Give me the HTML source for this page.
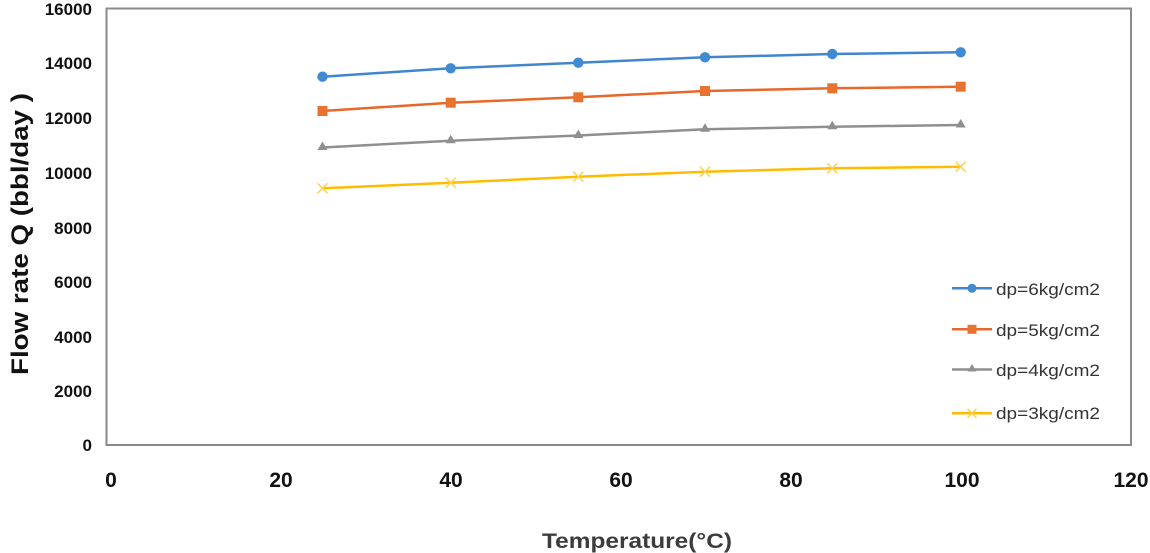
<!DOCTYPE html>
<html><head><meta charset="utf-8"><style>
html,body{margin:0;padding:0;background:#fff;}
svg{display:block;}
</style></head><body>
<svg width="1150" height="553" viewBox="0 0 1150 553" xmlns="http://www.w3.org/2000/svg">
<rect width="1150" height="553" fill="#fff"/>
<rect x="106.5" y="8.5" width="1024.5" height="436.5" fill="none" stroke="#8a8a8a" stroke-width="2"/>
<g font-family="Liberation Sans, sans-serif" font-weight="bold" font-size="17" fill="#111" text-anchor="end">
<text x="92" y="15">16000</text>
<text x="92" y="69">14000</text>
<text x="92" y="124">12000</text>
<text x="92" y="179">10000</text>
<text x="92" y="234">8000</text>
<text x="92" y="288">6000</text>
<text x="92" y="343">4000</text>
<text x="92" y="397">2000</text>
<text x="92" y="451">0</text>
</g>
<g font-family="Liberation Sans, sans-serif" font-weight="bold" font-size="21" fill="#111" text-anchor="middle">
<text x="111" y="487">0</text>
<text x="281" y="487">20</text>
<text x="451" y="487">40</text>
<text x="621" y="487">60</text>
<text x="791" y="487">80</text>
<text x="962" y="487">100</text>
<text x="1131" y="487">120</text>
</g>
<text x="637" y="548" font-family="Liberation Sans, sans-serif" font-weight="bold" font-size="21" fill="#3c3c3c" text-anchor="middle" textLength="190" lengthAdjust="spacingAndGlyphs">Temperature(°C)</text>
<text transform="translate(28,234) rotate(-90)" font-family="Liberation Sans, sans-serif" font-weight="bold" font-size="24" fill="#111" text-anchor="middle" textLength="282" lengthAdjust="spacingAndGlyphs">Flow rate Q (bbl/day )</text>

<!-- blue -->
<polyline points="322.5,76.7 450.7,68.3 578.3,62.7 705,57.3 832.3,54 960.7,52.3" fill="none" stroke="#3f86cf" stroke-width="2.5"/>
<g fill="#4189d0">
<circle cx="322.5" cy="76.7" r="5.2"/><circle cx="450.7" cy="68.3" r="5.2"/><circle cx="578.3" cy="62.7" r="5.2"/><circle cx="705" cy="57.3" r="5.2"/><circle cx="832.3" cy="54" r="5.2"/><circle cx="960.7" cy="52.3" r="5.2"/>
</g>
<!-- orange -->
<polyline points="322.5,111 450.7,102.7 578.3,97.3 705,91 832.3,88.3 960.7,86.7" fill="none" stroke="#e8672a" stroke-width="2.5"/>
<g fill="#e8732f">
<rect x="317.5" y="106" width="10" height="10"/><rect x="445.7" y="97.7" width="10" height="10"/><rect x="573.3" y="92.3" width="10" height="10"/><rect x="700" y="86" width="10" height="10"/><rect x="827.3" y="83.3" width="10" height="10"/><rect x="955.7" y="81.7" width="10" height="10"/>
</g>
<!-- gray -->
<polyline points="322.5,147.5 450.7,140.7 578.3,135.5 705,129.3 832.3,126.7 960.7,125" fill="none" stroke="#8f8f8f" stroke-width="2.5"/>
<g fill="#8f8f8f">
<polygon points="322.5,141.5 327.5,150 317.5,150"/><polygon points="450.7,134.7 455.7,143.2 445.7,143.2"/><polygon points="578.3,129.5 583.3,138 573.3,138"/><polygon points="705,123.3 710,131.8 700,131.8"/><polygon points="832.3,120.7 837.3,129.2 827.3,129.2"/><polygon points="960.7,119 965.7,127.5 955.7,127.5"/>
</g>
<!-- yellow -->
<polyline points="322.5,188.3 450.7,182.7 578.3,176.7 705,171.7 832.3,168.3 960.7,166.7" fill="none" stroke="#ffbb00" stroke-width="2.5"/>
<g stroke="#ffd24d" stroke-width="1.5">
<path d="M317.5,183.3 L327.5,193.3 M327.5,183.3 L317.5,193.3"/>
<path d="M445.7,177.7 L455.7,187.7 M455.7,177.7 L445.7,187.7"/>
<path d="M573.3,171.7 L583.3,181.7 M583.3,171.7 L573.3,181.7"/>
<path d="M700,166.7 L710,176.7 M710,166.7 L700,176.7"/>
<path d="M827.3,163.3 L837.3,173.3 M837.3,163.3 L827.3,173.3"/>
<path d="M955.7,161.7 L965.7,171.7 M965.7,161.7 L955.7,171.7"/>
</g>

<!-- legend -->
<line x1="952" y1="288.3" x2="992" y2="288.3" stroke="#3f86cf" stroke-width="2.5"/>
<circle cx="972" cy="288.3" r="4.5" fill="#4189d0"/>
<line x1="952" y1="329.3" x2="992" y2="329.3" stroke="#e8672a" stroke-width="2.5"/>
<rect x="967.5" y="324.8" width="9" height="9" fill="#e8732f"/>
<line x1="952" y1="369.5" x2="992" y2="369.5" stroke="#8f8f8f" stroke-width="2.5"/>
<polygon points="972,364 976.5,371.5 967.5,371.5" fill="#8f8f8f"/>
<line x1="952" y1="413.3" x2="992" y2="413.3" stroke="#ffbb00" stroke-width="2.5"/>
<path d="M967.5,408.8 L976.5,417.8 M976.5,408.8 L967.5,417.8" stroke="#ffd24d" stroke-width="1.5"/>
<g font-family="Liberation Sans, sans-serif" font-size="17" fill="#333">
<text x="996" y="295" textLength="104" lengthAdjust="spacingAndGlyphs">dp=6kg/cm2</text>
<text x="996" y="336" textLength="104" lengthAdjust="spacingAndGlyphs">dp=5kg/cm2</text>
<text x="996" y="376" textLength="104" lengthAdjust="spacingAndGlyphs">dp=4kg/cm2</text>
<text x="996" y="419" textLength="104" lengthAdjust="spacingAndGlyphs">dp=3kg/cm2</text>
</g>
</svg>
</body></html>
